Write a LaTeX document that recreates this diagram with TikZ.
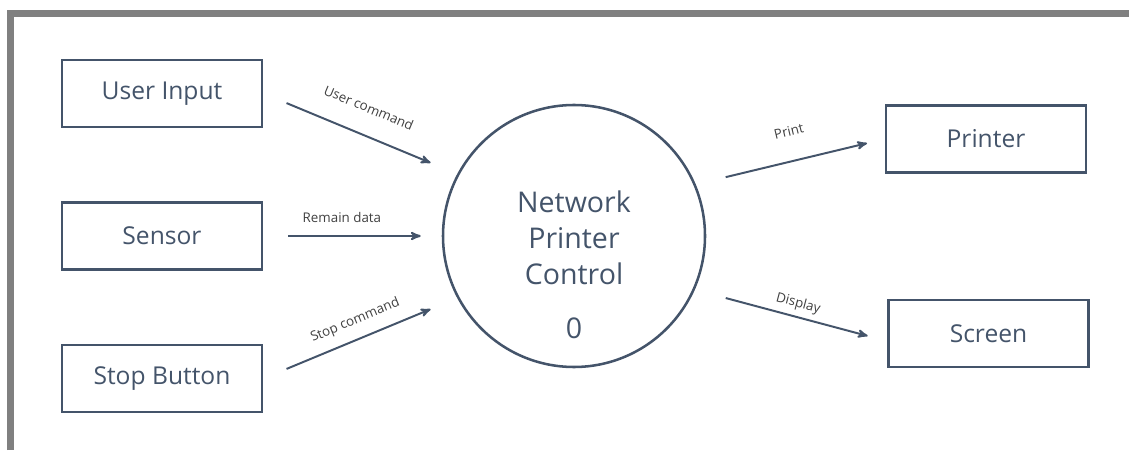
\documentclass[tikz,border=0pt]{standalone}
\usepackage{xcolor}
\usepackage{fontspec}
\setmainfont{Open Sans}
\usepackage{tikz}
\usetikzlibrary{arrows, positioning}

\definecolor{slate}{HTML}{44546A}
\definecolor{frame}{HTML}{808080}
\definecolor{labelgray}{HTML}{404040}

\begin{document}
\begin{tikzpicture}[>=stealth',
			thick,
			entity/.style={draw=slate, line width=2.1pt, minimum width=5cm, minimum height=1.675cm, text=slate, font=\fontsize{17.5}{21}\selectfont},
			process/.style={draw=slate, line width=1.8pt, circle, minimum size=6.55cm},
			proctext/.style={text=slate, font=\fontsize{20.3}{25.5}\selectfont, align=center},
			flow/.style={->, draw=slate, line width=1.4pt},
			lbl/.style={sloped, inner sep=0pt, text=labelgray, font=\fontsize{9.5}{11}\selectfont}]
			
			\useasboundingbox (0,0) rectangle (28.225,11.25);
			\draw[frame, line width=0.175cm] (0.2625,0) -- (0.2625,10.9125) -- (28.4,10.9125);
			
			\node[entity] (ui) at (4.05,8.9125) {User Input};
			\node[entity] (sen) at (4.05,5.35) {Sensor};
			\node[entity] (stp) at (4.05,1.7875) {Stop Button};
			\node[process, label={[proctext, yshift=-0.72cm]center:Network\\Printer\\Control\\[0.45cm]0}] (npc) at (14.35,5.35) {};
			\node[entity] (prn) at (24.65,7.775) {Printer};
			\node[entity] (scr) at (24.7125,2.9125) {Screen};
			
			\draw[flow, shorten <=0.625cm, shorten >=0.72cm] (ui.east) -- (npc.152) node[lbl, pos=0.49, yshift=0.68cm] {User command};
			\draw[flow, shorten <=0.625cm, shorten >=0.525cm] (sen.east) -- (npc.west) node[lbl, pos=0.44, yshift=0.475cm] {Remain data};
			\draw[flow, shorten <=0.625cm, shorten >=0.72cm] (stp.east) -- (npc.208) node[lbl, pos=0.51, yshift=0.46cm] {Stop command};
			\draw[flow, shorten <=0.77cm, shorten >=0.45cm] (npc.23) -- (prn.west) node[lbl, pos=0.53, yshift=0.75cm] {Print};
			\draw[flow, shorten <=0.8cm, shorten >=0.5cm] (npc.336) -- ([yshift=-0.19cm]scr.west) node[lbl, pos=0.52, yshift=0.33cm] {Display};
		\end{tikzpicture}
\end{document}
